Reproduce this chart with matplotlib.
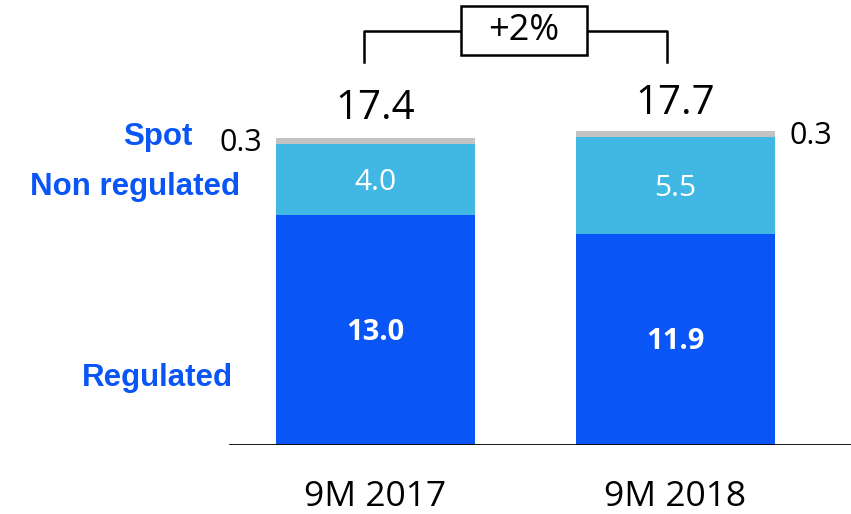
import matplotlib
matplotlib.use("Agg")
from matplotlib import pyplot as plt
from matplotlib.patches import Rectangle

# data
periods = ["9M 2017", "9M 2018"]
regulated = [13.0, 11.9]
non_regulated = [4.0, 5.5]
spot = [0.3, 0.3]
totals = [17.4, 17.7]
growth = "+2%"

c_reg = "#0A55F6"
c_nonreg = "#41B8E4"
c_spot = "#C3C3C3"
num_font = ["Open Sans", "DejaVu Sans"]
lab_font = ["Liberation Sans", "DejaVu Sans"]

W, H = 851, 514
fig = plt.figure(figsize=(W / 100, H / 100), dpi=100)
base_px = 445.0
px_per_unit = 17.72
ax = fig.add_axes([0, (H - base_px) / H, 1, base_px / H])
ax.set_ylim(0, base_px / px_per_unit)
ax.set_xlim(-375.5 / 300, (W - 375.5) / 300)
ax.axis("off")

x = [0, 1]
bw = 0.663
ax.bar(x, regulated, bw, color=c_reg)
ax.bar(x, non_regulated, bw, bottom=regulated, color=c_nonreg)
bot2 = [r + n for r, n in zip(regulated, non_regulated)]
ax.bar(x, spot, bw, bottom=bot2, color=c_spot)
ax.axhline(0, xmin=230 / W, xmax=1, color="black", lw=2)

for i in range(2):
    ax.text(x[i], regulated[i] / 2 - 0.13, f"{regulated[i]:.1f}", ha="center", va="center",
            color="white", fontsize=21, fontweight="bold", family=num_font)
    ax.text(x[i], regulated[i] + non_regulated[i] / 2 - 0.18, f"{non_regulated[i]:.1f}",
            ha="center", va="center", color="white", fontsize=21.5, family=num_font)
    ax.text(x[i], totals[i] + 1.55, f"{totals[i]:.1f}", ha="center", va="center",
            color="black", fontsize=29, family=num_font)
    ax.text(x[i], -2.93, periods[i], ha="center", va="center",
            color="black", fontsize=25.5, family=num_font)

# spot value labels
ax.text(x[0] - bw / 2 - 0.045, 17.04, f"{spot[0]:.1f}", ha="right", va="center",
        fontsize=22, family=num_font)
ax.text(x[1] + bw / 2 + 0.05, 17.44, f"{spot[1]:.1f}", ha="left", va="center",
        fontsize=22, family=num_font)

# category labels
ax.text(-0.61, 17.4, "Spot", ha="right", va="center", color=c_reg,
        fontsize=22.5, fontweight="bold", family=lab_font)
ax.text(-0.45, 14.55, "Non regulated", ha="right", va="center", color=c_reg,
        fontsize=22.5, fontweight="bold", family=lab_font)
ax.text(-0.475, 3.8, "Regulated", ha="right", va="center", color=c_reg,
        fontsize=22.5, fontweight="bold", family=lab_font)

# growth bracket
yb_top = 23.36
yb_bot = 21.61
xl = x[0] - 0.038
xr = x[1] - 0.028
ax.plot([xl, xl, xr, xr], [yb_bot, yb_top, yb_top, yb_bot], color="black", lw=1.8,
        clip_on=False, zorder=1)
bx0, bx1 = 0.285, 0.705
by0, by1 = 22.01, 24.77
ax.add_patch(Rectangle((bx0, by0), bx1 - bx0, by1 - by0, fc="white", ec="black",
                       lw=1.8, clip_on=False, zorder=2))
ax.text((bx0 + bx1) / 2, (by0 + by1) / 2, growth, ha="center", va="center", fontsize=26,
        family=num_font, zorder=3)

fig.savefig("out.png", dpi=100)
